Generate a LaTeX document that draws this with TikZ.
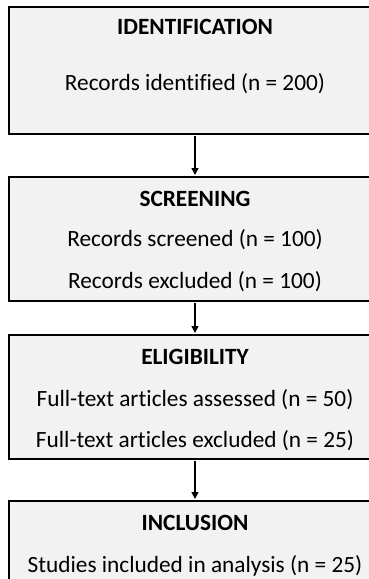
\documentclass[tikz,border=0pt]{standalone}
\usepackage{fontspec}
\setmainfont[Ligatures={NoCommon}]{Carlito}
\usetikzlibrary{arrows.meta}
\definecolor{boxfill}{HTML}{F2F2F2}
\tikzset{
  stage/.style={draw=black, line width=2pt, fill=boxfill, rectangle, inner sep=0pt, minimum width=372pt},
  head/.style={anchor=base, inner sep=0pt, font=\fontsize{23.3}{26}\selectfont\bfseries},
  body/.style={anchor=base, inner sep=0pt, font=\fontsize{23.3}{26}\selectfont},
  flow/.style={line width=1.5pt, -{Triangle[length=7pt,width=7pt]}, shorten >=1pt, shorten <=1pt}
}
\begin{document}
\begin{tikzpicture}[x=1pt,y=-1pt]
\useasboundingbox (0,0) rectangle (369,579);
% stage boxes
\node[stage, minimum height=127pt] (b1) at (195,70.5) {};
\node[stage, minimum height=124pt] (b2) at (195,239) {};
\node[stage, minimum height=124pt] (b3) at (195,397) {};
\node[stage, minimum height=129pt] (b4) at (195,565.5) {};
% texts
\node[head] (t1) at (195,34) {IDENTIFICATION};
\node[body] (t1a) at (195,90.7) {Records identified (n = 200)};
\node[head] (t2) at (195,206) {SCREENING};
\node[body] (t2a) at (195,246.7) {Records screened (n = 100)};
\node[body] (t2b) at (195,288) {Records excluded (n = 100)};
\node[head] (t3) at (195,364) {ELIGIBILITY};
\node[body] (t3a) at (195,406) {Full-text articles assessed (n = 50)};
\node[body] (t3b) at (195,447.7) {Full-text articles excluded (n = 25)};
\node[head] (t4) at (195,530) {INCLUSION};
\node[body] (t4a) at (195,572.7) {Studies included in analysis (n = 25)};
% connectors
\draw[flow] (b1.south) -- (b2.north);
\draw[flow] (b2.south) -- (b3.north);
\draw[flow] (b3.south) -- (b4.north);
\end{tikzpicture}
\end{document}
